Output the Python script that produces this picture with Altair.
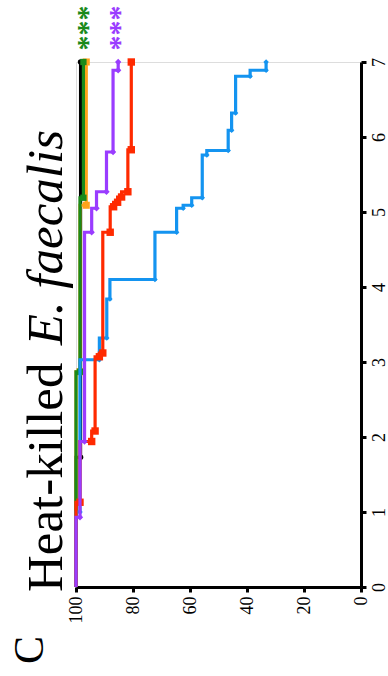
import altair as alt
import pandas as pd

# Kaplan-Meier survival (%) by day for each group
DAYS_BLACK = [0, 1.73, 7]
SURV_BLACK = [100, 98.4, 98.4]

DAYS_ORANGE = [0, 2.87, 5.09, 7]
SURV_ORANGE = [100, 98.6, 96.4, 96.4]

DAYS_GREEN = [0, 2.87, 5.19, 7]
SURV_GREEN = [100, 98.6, 97.4, 97.4]

DAYS_BLUE = [0, 1.0, 3.03, 3.32, 3.84, 4.10, 4.73, 5.05, 5.09, 5.19, 5.76, 5.82, 6.09, 6.32, 6.81, 6.89, 7]
SURV_BLUE = [100, 98.6, 91.8, 89.2, 88.1, 72.3, 64.7, 62.4, 59.4, 55.7, 54.1, 46.6, 45.4, 44.0, 38.9, 33.3, 33.3]

DAYS_RED = [0, 1.13, 1.94, 2.08, 3.07, 3.12, 4.73, 5.07, 5.13, 5.20, 5.27, 5.83, 7]
SURV_RED = [100, 98.6, 94.5, 93.3, 91.8, 90.6, 88.0, 86.8, 85.4, 84.0, 81.8, 80.6, 80.6]

DAYS_PURPLE = [0, 0.93, 1.94, 4.73, 5.05, 5.27, 5.80, 6.89, 7]
SURV_PURPLE = [100, 98.6, 97.0, 94.5, 92.8, 89.3, 87.0, 85.2, 85.2]

DAY_TICKS = [0, 1, 2, 3, 4, 5, 6, 7]
SURV_TICKS = [0, 20, 40, 60, 80, 100]

TITLE_PLAIN = ["Heat-killed"]
TITLE_ITALIC = ["E. faecalis"]
PANEL_LABEL = ["C"]
STARS = ["***"]

# draw order: first listed is painted first
GROUPS = [
    ("black", DAYS_BLACK, SURV_BLACK, "#000000", "circle", 30),
    ("orange", DAYS_ORANGE, SURV_ORANGE, "#FFA31A", "square", 50),
    ("green", DAYS_GREEN, SURV_GREEN, "#1A8A1A", "square", 40),
    ("blue", DAYS_BLUE, SURV_BLUE, "#1494F0", "diamond", 30),
    ("red", DAYS_RED, SURV_RED, "#FF2A00", "square", 55),
    ("purple", DAYS_PURPLE, SURV_PURPLE, "#9A3CFF", "diamond", 40),
]

W, H = 285, 525
SERIF = "Liberation Serif"

x_scale = alt.Scale(domain=[0, 100], reverse=True, nice=False)
y_scale = alt.Scale(domain=[0, 7], nice=False)

x_axis = alt.Axis(
    orient="bottom", values=SURV_TICKS, title=None, grid=False,
    labelAngle=270, labelAlign="right", labelBaseline="middle",
    labelFont=SERIF, labelFontSize=18, labelColor="black", labelPadding=4,
    tickSize=5, tickWidth=3, tickColor="black",
    domainWidth=3, domainColor="black",
)
y_axis = alt.Axis(
    orient="right", values=DAY_TICKS, title=None, grid=False,
    labelAngle=270, labelAlign="center", labelBaseline="top",
    labelFont=SERIF, labelFontSize=18, labelColor="black", labelPadding=4,
    tickSize=5, tickWidth=3, tickColor="black",
    domainWidth=3, domainColor="black",
)

x_enc = alt.X("surv:Q", scale=x_scale, axis=x_axis)
y_enc = alt.Y("day:Q", scale=y_scale, axis=y_axis)

layers = []
for name, days, surv, color, shape, size in GROUPS:
    df = pd.DataFrame({"day": days, "surv": surv, "group": name})
    line = alt.Chart(df).mark_line(
        interpolate="step-before", strokeWidth=3.2, color=color
    ).encode(x=x_enc, y=y_enc, order=alt.Order("day:Q"))
    pts = alt.Chart(df.iloc[1:]).mark_point(
        shape=shape, size=size, filled=True, color=color, opacity=1
    ).encode(x=x_enc, y=y_enc)
    layers += [line, pts]

TITLE_SIZE = 51

title_plain = alt.Chart(pd.DataFrame({"t": TITLE_PLAIN})).mark_text(
    font=SERIF, fontSize=TITLE_SIZE, angle=270, align="left", baseline="alphabetic", color="black"
).encode(x=alt.value(62 - 76), y=alt.value(592 - 62), text="t:N")

title_italic = alt.Chart(pd.DataFrame({"t": TITLE_ITALIC})).mark_text(
    font=SERIF, fontSize=TITLE_SIZE, fontStyle="italic", angle=270, align="right",
    baseline="alphabetic", color="black"
).encode(x=alt.value(62 - 76), y=alt.value(130 - 62), text="t:N")

panel = alt.Chart(pd.DataFrame({"t": PANEL_LABEL})).mark_text(
    font=SERIF, fontSize=42, angle=270, align="center", baseline="alphabetic", color="black"
).encode(x=alt.value(43 - 76), y=alt.value(650 - 62), text="t:N")

stars_green = alt.Chart(pd.DataFrame({"t": STARS})).mark_text(
    font=SERIF, fontSize=30, fontWeight="bold", angle=270, align="center",
    baseline="middle", color="#1A8A1A"
).encode(x=alt.value(88 - 76), y=alt.value(28 - 62), text="t:N")

stars_purple = alt.Chart(pd.DataFrame({"t": STARS})).mark_text(
    font=SERIF, fontSize=30, fontWeight="bold", angle=270, align="center",
    baseline="middle", color="#9A3CFF"
).encode(x=alt.value(120 - 76), y=alt.value(28 - 62), text="t:N")

chart = alt.layer(
    *layers, title_plain, title_italic, panel, stars_green, stars_purple
).properties(
    width=W, height=H,
    autosize="none",
    padding={"left": 76, "top": 62, "right": 27, "bottom": 89},
).configure_view(strokeWidth=0).configure(background="white")

chart.save("out.html", embed_options={"renderer": "svg", "actions": False})
